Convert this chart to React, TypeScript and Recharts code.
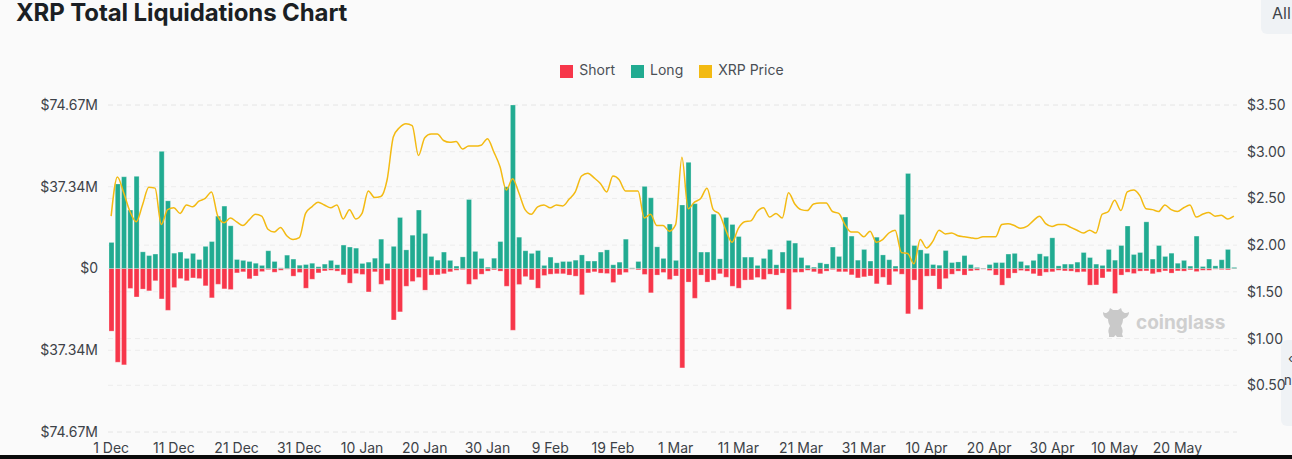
import React from 'react';
import { ComposedChart, Bar, Line, XAxis, YAxis, CartesianGrid, Legend } from 'recharts';

const months: [string, number][] = [['Dec', 31], ['Jan', 31], ['Feb', 28], ['Mar', 31], ['Apr', 30], ['May', 29]];
const categories: string[] = months.flatMap(([m, n]) => Array.from({ length: n }, (_, i) => `${i + 1} ${m}`));

// $M per day
const longValues = [
  11.9, 38.6, 41.9, 26.7, 42.1, 7.6, 5.9, 6.6, 53.5, 30.9,
  7.0, 7.5, 4.6, 6.9, 4.1, 10.1, 12.3, 23.9, 28.5, 19.5,
  4.1, 3.7, 3.2, 2.4, 1.4, 8.1, 3.2, 0.3, 6.1, 4.3,
  1.5, 1.8, 2.4, 0.8, 2.0, 3.7, 1.7, 10.7, 9.8, 9.3,
  2.3, 2.9, 4.7, 13.4, 2.3, 10.1, 23.3, 8.5, 15.2, 26.7,
  16.0, 5.5, 3.8, 7.5, 3.7, 1.1, 5.3, 31.5, 7.8, 4.6,
  0.6, 4.7, 12.3, 37.3, 74.67, 14.3, 8.1, 6.9, 8.2, 1.4,
  5.2, 2.6, 3.2, 3.2, 3.8, 6.2, 3.4, 3.4, 7.5, 8.5,
  1.7, 2.9, 13.4, 0.3, 3.2, 37.5, 32.3, 9.9, 4.6, 20.3,
  3.7, 29.0, 48.5, 29.6, 7.5, 7.5, 24.8, 4.4, 23.3, 20.1,
  14.6, 5.2, 5.2, 1.4, 4.6, 8.7, 1.7, 7.5, 12.8, 11.6,
  5.0, 1.5, 0.6, 2.6, 2.1, 9.8, 5.5, 23.5, 14.8, 3.8,
  8.7, 3.4, 14.3, 6.2, 4.0, 1.1, 24.7, 43.4, 10.5, 8.5,
  6.9, 1.8, 1.5, 8.2, 2.7, 3.0, 5.9, 1.8, 0.5, 0.2,
  1.8, 2.7, 2.7, 6.6, 6.9, 3.2, 1.5, 3.7, 6.7, 5.6,
  14.0, 1.2, 2.0, 2.0, 2.9, 7.3, 5.0, 2.0, 1.4, 8.7,
  3.8, 10.5, 19.4, 6.4, 7.3, 21.3, 4.3, 10.5, 5.5, 7.0,
  2.4, 3.7, 1.1, 14.8, 0.9, 4.3, 1.2, 4.0, 8.7, 0.5,
];

const shortValues = [
  28.6, 42.8, 44.0, 9.1, 13.0, 9.4, 10.2, 5.6, 13.9, 19.1,
  8.7, 4.6, 5.6, 4.3, 4.6, 7.9, 13.4, 7.2, 9.3, 9.6,
  2.0, 1.5, 4.7, 3.4, 1.4, 0.5, 1.7, 0.8, 0.3, 3.5,
  1.8, 9.0, 4.9, 2.0, 1.1, 0.8, 1.2, 2.9, 6.7, 2.3,
  2.7, 10.7, 1.5, 7.2, 5.5, 23.5, 19.8, 8.1, 5.9, 4.1,
  9.9, 3.0, 2.9, 2.4, 1.5, 0.8, 0.5, 7.2, 5.0, 2.6,
  1.2, 0.6, 1.2, 8.1, 28.2, 7.3, 3.7, 5.2, 9.0, 3.2,
  2.6, 2.4, 2.4, 3.0, 3.5, 12.0, 2.0, 1.5, 2.1, 2.3,
  6.4, 2.9, 1.8, 0.3, 0.6, 2.7, 11.1, 3.0, 1.8, 5.0,
  3.4, 45.4, 6.2, 13.6, 3.0, 6.2, 5.3, 2.4, 4.0, 8.1,
  9.0, 5.3, 5.2, 4.1, 5.0, 2.6, 3.0, 2.1, 18.7, 1.8,
  1.7, 0.8, 1.5, 2.4, 1.2, 0.5, 1.5, 1.5, 2.9, 4.3,
  3.8, 3.4, 7.0, 4.0, 7.5, 1.4, 2.6, 20.7, 5.3, 18.7,
  3.5, 3.4, 9.4, 4.6, 2.6, 1.2, 3.0, 1.1, 0.8, 0.3,
  0.9, 3.0, 7.6, 4.4, 2.1, 0.9, 1.2, 2.4, 3.4, 1.7,
  1.5, 0.8, 1.1, 1.2, 1.7, 1.5, 7.6, 7.5, 4.3, 1.5,
  11.4, 3.0, 1.7, 2.3, 1.2, 1.1, 2.4, 1.7, 1.1, 2.1,
  1.1, 1.2, 0.6, 1.4, 0.8, 0.8, 0.3, 0.5, 0.6, 0.2,
];

const priceValues = [
  2.31, 2.73, 2.56, 2.36, 2.25, 2.43, 2.62, 2.61, 2.22, 2.38,
  2.40, 2.34, 2.43, 2.41, 2.47, 2.50, 2.57, 2.31, 2.24, 2.29,
  2.25, 2.21, 2.27, 2.33, 2.31, 2.17, 2.14, 2.19, 2.10, 2.06,
  2.08, 2.34, 2.41, 2.46, 2.43, 2.40, 2.43, 2.28, 2.38, 2.28,
  2.34, 2.58, 2.51, 2.52, 2.70, 3.16, 3.26, 3.30, 3.28, 2.96,
  3.15, 3.19, 3.19, 3.12, 3.10, 3.11, 3.03, 3.06, 3.06, 3.07,
  3.14, 3.00, 2.84, 2.59, 2.71, 2.56, 2.38, 2.33, 2.41, 2.43,
  2.40, 2.43, 2.42, 2.49, 2.57, 2.74, 2.77, 2.72, 2.66, 2.57,
  2.74, 2.70, 2.58, 2.58, 2.58, 2.29, 2.33, 2.21, 2.21, 2.15,
  2.22, 2.94, 2.39, 2.46, 2.50, 2.61, 2.38, 2.33, 2.16, 2.03,
  2.18, 2.25, 2.26, 2.36, 2.40, 2.30, 2.34, 2.29, 2.56, 2.44,
  2.38, 2.37, 2.44, 2.45, 2.45, 2.36, 2.34, 2.22, 2.14, 2.14,
  2.09, 2.15, 2.03, 2.06, 2.13, 2.16, 1.92, 1.91, 1.80, 2.06,
  1.97, 2.04, 2.16, 2.12, 2.13, 2.10, 2.09, 2.08, 2.07, 2.09,
  2.09, 2.09, 2.22, 2.23, 2.21, 2.18, 2.20, 2.26, 2.31, 2.23,
  2.20, 2.22, 2.22, 2.19, 2.16, 2.13, 2.16, 2.13, 2.33, 2.36,
  2.48, 2.37, 2.57, 2.59, 2.53, 2.39, 2.38, 2.36, 2.43, 2.38,
  2.36, 2.40, 2.43, 2.30, 2.33, 2.35, 2.31, 2.32, 2.28, 2.31,
];

const leftTicks = [-74.67, -37.34, 0, 37.34, 74.67];
const rightTicks = [0, 0.5, 1, 1.5, 2, 2.5, 3, 3.5];

const chartData = categories.map((date, i) => ({
  date,
  long: longValues[i],
  short: -shortValues[i],
  price: priceValues[i],
}));

const fontFamily = 'Inter, "Noto Sans", sans-serif';
const tickStyle = { fontSize: 14, fill: '#3d4248', fontFamily };

const formatLeft = (v: number) => (v === 0 ? '$0' : `$${Math.abs(v).toFixed(2)}M`);
const formatRight = (v: number) => (v === 0 ? '' : `$${v.toFixed(2)}`);

// rough coinglass mascot, it's only a faint watermark
const Watermark = () => (
  <div style={{ position: 'absolute', left: 1101, top: 306, display: 'flex', alignItems: 'center', gap: 6 }}>
    <svg width={29} height={32} viewBox="0 0 29 32">
      <path
        fill="#c9c9c9"
        d="M2 6 C4 8 6 7 8 5 L9 2 L12 4 H17 L20 2 L21 5 C23 7 25 8 28 6 C28 10 25 12 22 13 C22 16 21 18 20 20 C22 23 22 26 21 28 L22 31 H16 L14.5 29 L13 31 H8 L8 28 C7 26 7 23 9 20 C8 18 7 16 7 13 C4 12 2 10 2 6 Z"
      />
    </svg>
    <span style={{ fontFamily, fontSize: 19, fontWeight: 700, color: '#cfcfcf' }}>coinglass</span>
  </div>
);

export default function App() {
  return (
    <div style={{ position: 'absolute', left: 0, top: 0, width: 1292, height: 459, overflow: 'hidden', background: '#fafafa' }}>
      <div style={{ position: 'absolute', left: 16, top: 0, fontFamily, fontSize: 24, fontWeight: 700, color: '#1b1f24', lineHeight: '26px', whiteSpace: 'nowrap', letterSpacing: -0.1 }}>
        XRP Total Liquidations Chart
      </div>

      <div style={{ position: 'absolute', left: 1261, top: -6, width: 60, height: 40, background: '#eff2f5', borderRadius: 6, boxSizing: 'border-box', padding: '9px 0 0 11px', fontFamily, fontSize: 16, color: '#3d4248' }}>
        All
      </div>
      <div style={{ position: 'absolute', left: 1281, top: 340, width: 30, height: 86, background: '#eff2f5', borderRadius: 6, fontFamily, fontSize: 13, color: '#3d4248' }}>
        <span style={{ position: 'absolute', left: 7, top: 10 }}>‹</span>
        <span style={{ position: 'absolute', left: 3, top: 32 }}>n</span>
      </div>

      <ComposedChart
        width={1292}
        height={455}
        data={chartData}
        stackOffset="sign"
        margin={{ top: 88, right: 0, bottom: 0, left: 48 }}
        style={{ position: 'absolute', left: 0, top: 0 }}
      >
        <CartesianGrid yAxisId="left" vertical={false} stroke="#ececec" strokeDasharray="5 4" />
        <CartesianGrid yAxisId="right" vertical={false} stroke="#ececec" strokeDasharray="5 4" />
        <XAxis
          dataKey="date"
          interval={9}
          height={23}
          tick={tickStyle}
          tickSize={0}
          tickMargin={11}
          axisLine={false}
          tickLine={false}
        />
        <YAxis
          yAxisId="left"
          width={60}
          domain={[-74.67, 74.67]}
          ticks={leftTicks}
          tickFormatter={formatLeft}
          tick={tickStyle}
          tickSize={0}
          tickMargin={10}
          axisLine={false}
          tickLine={false}
        />
        <YAxis
          yAxisId="right"
          orientation="right"
          width={55}
          domain={[0, 3.5]}
          ticks={rightTicks}
          tickFormatter={formatRight}
          tick={tickStyle}
          tickSize={0}
          tickMargin={10}
          axisLine={false}
          tickLine={false}
        />
        <Legend
          verticalAlign="top"
          iconType="square"
          iconSize={13}
          itemSorter={null}
          wrapperStyle={{ top: 61, fontFamily, fontSize: 14, transform: 'translateX(10px)' }}
          formatter={(value) => <span style={{ color: '#4a4f55', marginLeft: 2, marginRight: 6 }}>{value}</span>}
        />
        <Bar yAxisId="left" dataKey="short" name="Short" stackId="a" fill="#f7364a" barSize={5} stroke="#fff" strokeOpacity={0.25} isAnimationActive={false} />
        <Bar yAxisId="left" dataKey="long" name="Long" stackId="a" fill="#21ab91" barSize={5} stroke="#fff" strokeOpacity={0.25} isAnimationActive={false} />
        <Line yAxisId="right" dataKey="price" name="XRP Price" type="monotone" stroke="#f3ba12" strokeWidth={1.5} dot={false} legendType="square" isAnimationActive={false} />
      </ComposedChart>

      <Watermark />
      <div style={{ position: 'absolute', left: 0, top: 455, width: 1292, height: 4, background: '#0a0a0a' }} />
    </div>
  );
}
